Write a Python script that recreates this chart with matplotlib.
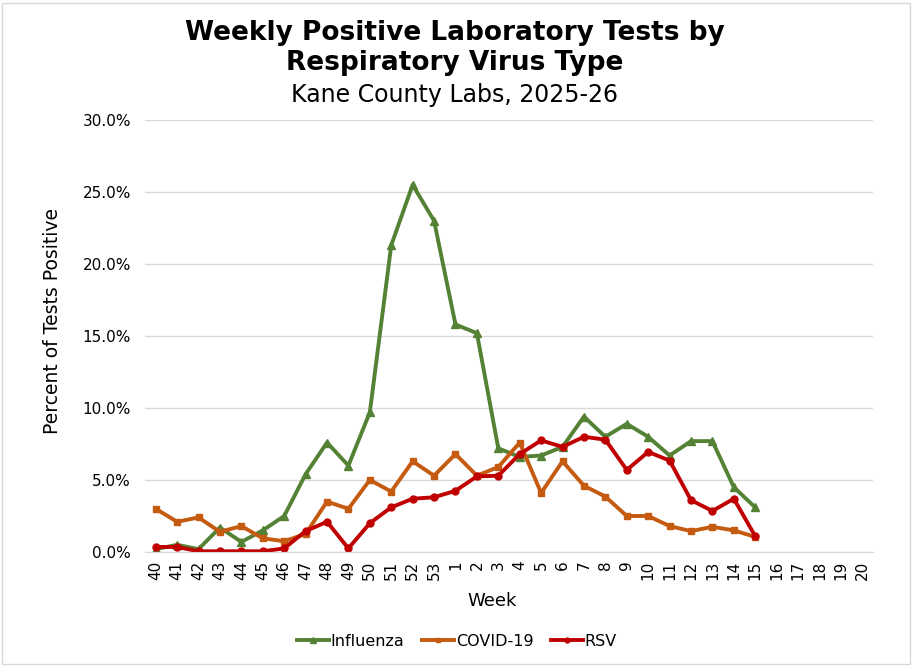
import matplotlib
matplotlib.use("Agg")
import matplotlib.pyplot as plt
from matplotlib.patches import Rectangle
from matplotlib.ticker import FuncFormatter, MultipleLocator

plt.rcParams['font.family'] = ['DejaVu Sans']

weeks = ['40', '41', '42', '43', '44', '45', '46', '47', '48', '49', '50', '51', '52', '53',
         '1', '2', '3', '4', '5', '6', '7', '8', '9', '10', '11', '12', '13', '14', '15',
         '16', '17', '18', '19', '20']

# percent positive, weeks 40 .. 15
influenza = [0.2, 0.5, 0.2, 1.7, 0.7, 1.5, 2.5, 5.4, 7.6, 6.0, 9.7, 21.3, 25.5, 23.0,
             15.8, 15.2, 7.2, 6.6, 6.7, 7.3, 9.4, 8.0, 8.9, 8.0, 6.7, 7.7, 7.7, 4.5, 3.1]
covid = [3.0, 2.1, 2.4, 1.4, 1.8, 0.95, 0.75, 1.25, 3.5, 3.0, 5.0, 4.2, 6.3, 5.3,
         6.8, 5.3, 5.9, 7.6, 4.1, 6.3, 4.6, 3.85, 2.5, 2.5, 1.8, 1.45, 1.75, 1.5, 1.05]
rsv = [0.35, 0.35, 0.05, 0.05, 0.05, 0.05, 0.25, 1.45, 2.1, 0.25, 2.0, 3.1, 3.7, 3.8,
       4.25, 5.25, 5.3, 6.8, 7.75, 7.3, 8.0, 7.8, 5.7, 6.95, 6.35, 3.6, 2.85, 3.7, 1.1]

green = '#548235'
orange = '#C55A11'
red = '#C00000'

fig = plt.figure(figsize=(9.15, 6.67), dpi=100)
ax = fig.add_axes([145 / 915, 115 / 667, 728 / 915, 432 / 667])

x = range(len(influenza))
ax.plot(x, influenza, color=green, lw=2.8, marker='^', ms=6, label='Influenza')
ax.plot(x, covid, color=orange, lw=2.8, marker='s', ms=4.5, label='COVID-19')
ax.plot(x, rsv, color=red, lw=2.8, marker='o', ms=5, label='RSV')

ax.set_xlim(-0.5, len(weeks) - 0.5)
ax.set_ylim(0, 30)
ax.set_xticks(range(len(weeks)))
ax.set_xticklabels(weeks, rotation=90, fontsize=11)
ax.yaxis.set_major_locator(MultipleLocator(5))
ax.yaxis.set_major_formatter(FuncFormatter(lambda v, p: f'{v:.1f}%'))
ax.tick_params(axis='y', labelsize=11, length=0, pad=10)
ax.tick_params(axis='x', length=0, pad=6)
ax.grid(axis='y', color='#d9d9d9', lw=1)
ax.set_axisbelow(True)
for s in ['top', 'right', 'left']:
    ax.spines[s].set_visible(False)
ax.spines['bottom'].set_color('#d9d9d9')

ax.set_xlabel('Week', fontsize=13)
ax.xaxis.set_label_coords((492 - 145) / 728, -(592 - 552) / 432)
ax.set_ylabel('Percent of Tests Positive', fontsize=13.5)
ax.yaxis.set_label_coords(-(145 - 62) / 728, (552 - 321) / 432)

fig.text(0.497, 1 - 33 / 667, 'Weekly Positive Laboratory Tests by',
         ha='center', va='center', fontsize=19, fontweight='bold')
fig.text(0.497, 1 - 63 / 667, 'Respiratory Virus Type',
         ha='center', va='center', fontsize=19, fontweight='bold')
fig.text(0.497, 1 - 95 / 667, 'Kane County Labs, 2025-26', ha='center', va='center', fontsize=17)

ax.legend(loc='center', bbox_to_anchor=(457 / 915, 26 / 667), bbox_transform=fig.transFigure,
          ncol=3, frameon=False, fontsize=11.5, handlelength=2.0, handletextpad=0.1,
          columnspacing=1.1, markerscale=0.7)

fig.patches.append(Rectangle((2 / 915, 3 / 667), 908 / 915, 661 / 667, transform=fig.transFigure,
                             fill=False, edgecolor='#d9d9d9', lw=1))

fig.savefig('out.png', dpi=100, facecolor='white')
